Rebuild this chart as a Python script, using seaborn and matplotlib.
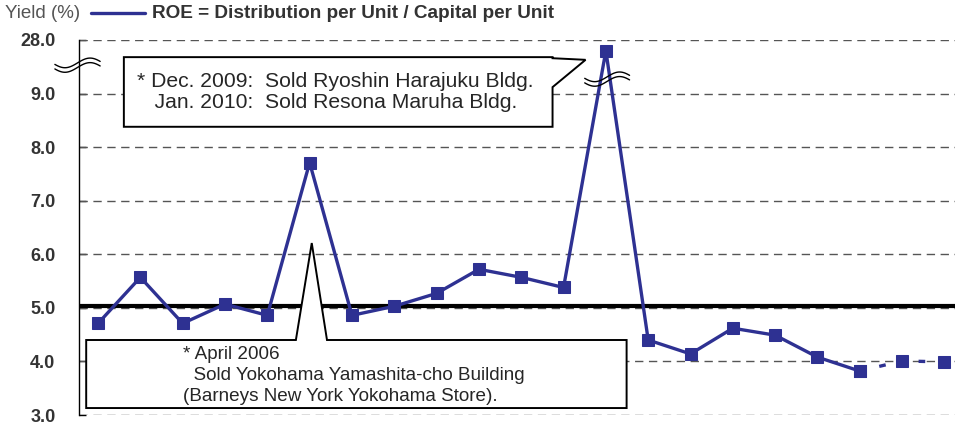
import matplotlib
matplotlib.use("Agg")
import matplotlib.pyplot as plt
import numpy as np
import pandas as pd
import seaborn as sns
from matplotlib.patches import Polygon
from matplotlib.lines import Line2D

# ROE per period (%); the peak sits above the axis break
roe = [4.71, 5.57, 4.71, 5.07, 4.86, 7.71, 4.86, 5.03, 5.27, 5.72, 5.57,
       5.38, 24.2, 4.40, 4.14, 4.62, 4.49, 4.08, 3.82, 4.01, 3.99]
dashed_from = 18          # last periods drawn with a dashed line
ref_level = 5.03          # thick black reference line
tick_vals = [3, 4, 5, 6, 7, 8, 9, 28]
tick_labels = ["3.0", "4.0", "5.0", "6.0", "7.0", "8.0", "9.0", "28.0"]

note_2009 = "* Dec. 2009:  Sold Ryoshin Harajuku Bldg.\n   Jan. 2010:  Sold Resona Maruha Bldg."
note_2006 = "* April 2006\n  Sold Yokohama Yamashita-cho Building\n(Barneys New York Yokohama Store)."


def broken(v):
    # squeeze values above 9 so that 28 sits one step above 9
    v = np.asarray(v, dtype=float)
    return np.where(v > 9, 9 + (v - 9) / 19.0, v)


df = pd.DataFrame({"idx": np.arange(len(roe)), "roe": roe})
df["pos"] = broken(df["roe"])

sns.set_style("white")
plt.rcParams["font.family"] = ["Liberation Sans", "DejaVu Sans"]

blue = "#2E3192"
fig = plt.figure(figsize=(9.55, 4.24), dpi=100)
ax = fig.add_axes([79 / 955, 9 / 424, 876 / 955, 375 / 424])

# gridlines
for t in broken(tick_vals):
    ax.axhline(t, color="#555555", lw=1, ls=(0, (6, 4)), zorder=1)
ax.axhline(ref_level, color="black", lw=3, zorder=2)

solid = df[df["idx"] <= dashed_from]
dash = df[df["idx"] >= dashed_from]
sns.lineplot(data=solid, x="idx", y="pos", ax=ax, color=blue, lw=2.4,
             marker="s", markersize=8, markeredgecolor=blue, zorder=5)
sns.lineplot(data=dash, x="idx", y="pos", ax=ax, color=blue, lw=2.4,
             marker="s", markersize=8, markeredgecolor=blue, zorder=5,
             linestyle=(0, (2, 4)))

ax.set_xlim(-0.45, 20.25)
ax.set_ylim(3, 10)
ax.set_xticks([])
ax.set_yticks(broken(tick_vals))
ax.set_yticklabels(tick_labels, fontweight="bold", fontsize=13, color="#333333")
ax.tick_params(axis="y", direction="in", length=5, width=1, pad=17, color="black", left=True)
ax.set_xlabel("")
ax.set_ylabel("")
for s in ["top", "right", "bottom"]:
    ax.spines[s].set_visible(False)
ax.spines["left"].set_color("black")
ax.spines["left"].set_linewidth(1)

# callout for the 2009/2010 peak
box1 = Polygon([(0.61, 9.68), (10.74, 9.68), (10.74, 9.66), (11.52, 9.63),
                (10.74, 9.12), (10.74, 8.38), (0.61, 8.38)],
               closed=True, facecolor="white", edgecolor="black", lw=1.4, zorder=3)
ax.add_patch(box1)
ax.text(0.93, 9.03, note_2009, fontsize=15.2, va="center", ha="left",
        linespacing=1.16, zorder=4)

# callout for April 2006
box2 = Polygon([(-0.28, 4.40), (4.675, 4.40), (5.05, 6.21), (5.41, 4.40),
                (12.49, 4.40), (12.49, 3.13), (-0.28, 3.13)],
               closed=True, facecolor="white", edgecolor="black", lw=1.4,
               zorder=3, clip_on=False)
ax.add_patch(box2)
ax.text(2.0, 3.74, note_2006, fontsize=13.6, va="center", ha="left",
        linespacing=1.33, zorder=4)

# axis break marks
def wave(x0, x1, yc, amp=0.09, gap=0.085, clip=True):
    xs = np.linspace(x0, x1, 60)
    ph = np.linspace(-np.pi * 0.9, np.pi * 0.9, 60)
    for off in (gap / 2, -gap / 2):
        ax.plot(xs, yc + off + amp * np.sin(ph), color="black", lw=1,
                zorder=6, clip_on=clip)

wave(-1.02, 0.05, 9.53, clip=False)
wave(11.5, 12.56, 9.27)

# header: axis title and legend
fig.text(5 / 955, 1 - 14 / 424, "Yield (%)", fontsize=13.5, color="#555555", va="center")
fig.add_artist(Line2D([91 / 955, 145 / 955], [1 - 13 / 424, 1 - 13 / 424],
                      color=blue, lw=2.4, transform=fig.transFigure))
fig.text(152 / 955, 1 - 14 / 424, "ROE = Distribution per Unit / Capital per Unit",
         fontsize=13.7, fontweight="bold", color="#333333", va="center")

fig.savefig("out.png", dpi=100)
